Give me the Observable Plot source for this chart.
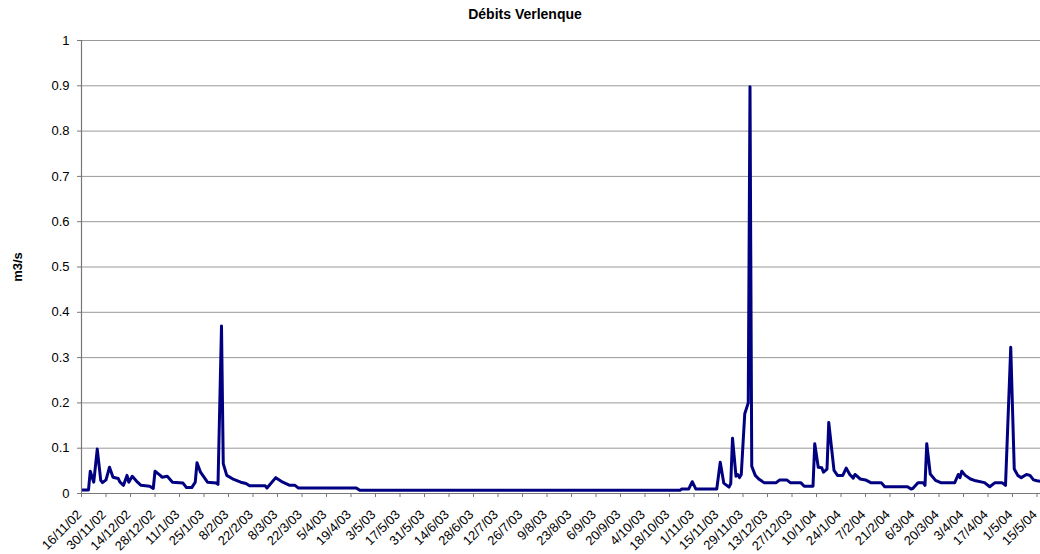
<!DOCTYPE html>
<html>
<head>
<meta charset="utf-8">
<script src="https://cdn.jsdelivr.net/npm/d3@7"></script>
<script src="https://cdn.jsdelivr.net/npm/@observablehq/plot@0.6"></script>
<style>
  html, body { margin: 0; padding: 0; background: #fff; }
  #chart { width: 1040px; height: 554px; overflow: hidden; }
</style>
</head>
<body>
<div id="chart"></div>
<script>
const title = "Débits Verlenque";
const yLabel = "m3/s";

const dates = [
  "2002-11-16","2002-11-20","2002-11-21","2002-11-23","2002-11-25","2002-11-27","2002-11-28","2002-11-30",
  "2002-12-02","2002-12-04","2002-12-07","2002-12-08","2002-12-10","2002-12-12","2002-12-13","2002-12-15",
  "2002-12-18","2002-12-20","2002-12-25","2002-12-27","2002-12-28","2002-12-31","2003-01-01","2003-01-04",
  "2003-01-07","2003-01-13","2003-01-15","2003-01-18","2003-01-20","2003-01-21","2003-01-23","2003-01-27",
  "2003-02-01","2003-02-02","2003-02-04","2003-02-05","2003-02-07","2003-02-11","2003-02-15","2003-02-18",
  "2003-02-20","2003-03-01","2003-03-02","2003-03-07","2003-03-11","2003-03-15","2003-03-18","2003-03-20",
  "2003-04-22","2003-04-24","2003-10-24","2003-10-25","2003-10-29","2003-10-31","2003-11-02","2003-11-14",
  "2003-11-16","2003-11-18","2003-11-21","2003-11-22","2003-11-23","2003-11-25","2003-11-26","2003-11-27",
  "2003-11-28","2003-11-30","2003-12-02","2003-12-03","2003-12-04","2003-12-06","2003-12-08","2003-12-11",
  "2003-12-18","2003-12-20","2003-12-24","2003-12-26","2004-01-01","2004-01-03","2004-01-08","2004-01-09",
  "2004-01-11","2004-01-13","2004-01-14","2004-01-16","2004-01-17","2004-01-20","2004-01-22","2004-01-25",
  "2004-01-27","2004-01-29","2004-01-31","2004-02-01","2004-02-04","2004-02-07","2004-02-10","2004-02-16",
  "2004-02-18","2004-03-02","2004-03-04","2004-03-05","2004-03-08","2004-03-11","2004-03-12","2004-03-13",
  "2004-03-15","2004-03-18","2004-03-21","2004-03-29","2004-03-31","2004-04-01","2004-04-02","2004-04-04",
  "2004-04-07","2004-04-10","2004-04-15","2004-04-18","2004-04-21","2004-04-25","2004-04-27","2004-04-30",
  "2004-05-02","2004-05-04","2004-05-06","2004-05-09","2004-05-11","2004-05-13","2004-05-15","2004-05-18"
];

const flows = [
  0.008,0.008,0.049,0.025,0.098,0.029,0.024,0.030,
  0.058,0.036,0.033,0.025,0.018,0.040,0.025,0.038,
  0.025,0.018,0.016,0.011,0.049,0.040,0.036,0.038,
  0.025,0.023,0.013,0.013,0.025,0.068,0.047,0.025,
  0.023,0.020,0.370,0.066,0.040,0.031,0.025,0.022,
  0.017,0.017,0.012,0.035,0.025,0.018,0.018,0.012,
  0.012,0.007,0.007,0.010,0.010,0.026,0.010,0.010,
  0.069,0.023,0.014,0.022,0.122,0.038,0.042,0.035,
  0.042,0.176,0.200,0.898,0.060,0.040,0.032,0.024,
  0.024,0.030,0.030,0.024,0.024,0.016,0.016,0.110,
  0.058,0.057,0.047,0.054,0.157,0.051,0.040,0.040,
  0.056,0.042,0.034,0.042,0.032,0.030,0.024,0.024,
  0.015,0.015,0.010,0.011,0.024,0.024,0.018,0.110,
  0.043,0.029,0.024,0.024,0.042,0.035,0.049,0.040,
  0.032,0.028,0.024,0.015,0.024,0.024,0.018,0.323,
  0.054,0.040,0.035,0.042,0.040,0.030,0.028,0.026
];

const xTickLabels = [
  "16/11/02","30/11/02","14/12/02","28/12/02","11/1/03","25/1/03","8/2/03","22/2/03",
  "8/3/03","22/3/03","5/4/03","19/4/03","3/5/03","17/5/03","31/5/03","14/6/03",
  "28/6/03","12/7/03","26/7/03","9/8/03","23/8/03","6/9/03","20/9/03","4/10/03",
  "18/10/03","1/11/03","15/11/03","29/11/03","13/12/03","27/12/03","10/1/04","24/1/04",
  "7/2/04","21/2/04","6/3/04","20/3/04","3/4/04","17/4/04","1/5/04","15/5/04"
];

const yTicks = [0, 0.1, 0.2, 0.3, 0.4, 0.5, 0.6, 0.7, 0.8, 0.9, 1];

const parseIso = d3.utcParse("%Y-%m-%d");
const parseTick = d3.utcParse("%d/%m/%y");
const data = dates.map((d, i) => ({date: parseIso(d), flow: flows[i]}));
const xTicks = xTickLabels.map((s) => ({date: parseTick(s), label: s}));

const font = "'Liberation Sans', Arial, Helvetica, sans-serif";
const start = parseIso("2002-11-16");

const chart = Plot.plot({
  width: 1040,
  height: 554,
  marginTop: 40,
  marginBottom: 61,
  marginLeft: 81,
  marginRight: 0,
  style: {fontFamily: font, fontSize: "13px", background: "#fff", color: "#000", overflow: "hidden"},
  x: {type: "utc", domain: [start, parseIso("2004-05-17")]},
  y: {domain: [0, 1]},
  marks: [
    Plot.gridY(yTicks, {stroke: "#999", strokeOpacity: 1, strokeWidth: 1}),
    Plot.line(data, {x: "date", y: "flow", stroke: "#000080", strokeWidth: 3, strokeLinejoin: "round", clip: true}),
    Plot.ruleX([start], {stroke: "#777", strokeWidth: 1.2}),
    Plot.ruleY([0], {stroke: "#777", strokeWidth: 1.2}),
    Plot.axisY(yTicks, {
      tickSize: 4, tickPadding: 8, stroke: "#777",
      tickFormat: d => String(d), label: null, fontSize: 13
    }),
    Plot.axisX(xTicks.map(d => d.date), {
      tickSize: 4, stroke: "#777", tickFormat: () => "", label: null
    }),
    Plot.text(xTicks, {
      x: "date", text: "label", frameAnchor: "bottom", dx: -2, dy: 19,
      rotate: -45, textAnchor: "end", lineAnchor: "middle", fontSize: 13, fill: "#000"
    }),
    Plot.text([title], {
      frameAnchor: "top", dx: -36, dy: -22, textAnchor: "middle", lineAnchor: "bottom",
      fontWeight: "bold", fontSize: 14, fill: "#000"
    }),
    Plot.text([yLabel], {
      frameAnchor: "left", dx: -64, rotate: -90, textAnchor: "middle", lineAnchor: "middle",
      fontWeight: "bold", fontSize: 13, fill: "#000"
    })
  ]
});

document.getElementById("chart").appendChild(chart);
</script>
</body>
</html>
